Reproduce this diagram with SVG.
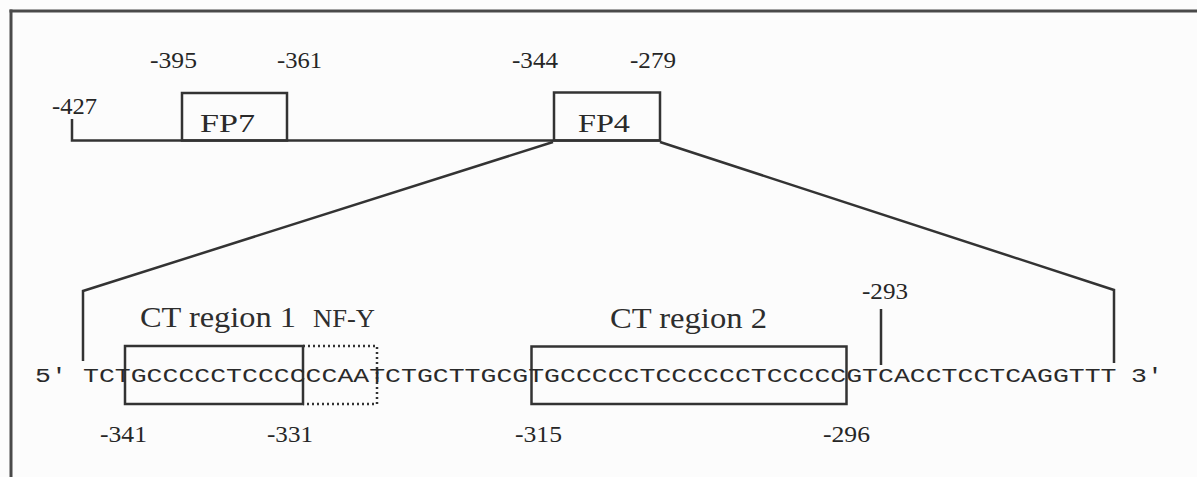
<svg xmlns="http://www.w3.org/2000/svg" width="1197" height="477" viewBox="0 0 1197 477">
<style>
.ln{stroke:#333;stroke-width:2.5;fill:none}
.bx{stroke:#333;stroke-width:2.5;fill:none}
.dot{stroke:#333;stroke-width:2.5;fill:none;stroke-dasharray:2 3}
.num{font-family:"Liberation Serif",serif;font-size:23.5px;fill:#262626}
.fp{font-family:"Liberation Serif",serif;font-size:25.5px;fill:#2a2a2a}
.ct{font-family:"Liberation Serif",serif;font-size:30px;fill:#2e2e2e}
.nf{font-family:"Liberation Serif",serif;font-size:25px;fill:#2e2e2e}
.seq{font-family:"Liberation Mono",monospace;font-size:19.5px;fill:#2a2a2a}
</style>
<rect width="1197" height="477" fill="#fcfcfc"/>
<g id="frame">
<line x1="9.5" y1="11" x2="1197" y2="11" stroke="#4a4a4a" stroke-width="3"/>
<line x1="11" y1="9.5" x2="11" y2="477" stroke="#4a4a4a" stroke-width="3"/>
</g>
<g id="connectors">
<polyline class="ln" points="72,119 72,140.5 555,140.5"/>
<line class="ln" x1="660" y1="140.5" x2="555" y2="140.5"/>
<polyline class="ln" points="553,142 83,291 83,361"/>
<polyline class="ln" points="660,142 1114,290 1114,363"/>
<line class="ln" x1="881" y1="309" x2="881" y2="365"/>
</g>
<g id="fp7">
<rect class="bx" x="182" y="93" width="105" height="47.5"/>
<text class="fp" x="200" y="131.5" textLength="55" lengthAdjust="spacingAndGlyphs">FP7</text>
</g>
<g id="fp4">
<rect class="bx" x="554" y="92.5" width="106" height="48"/>
<text class="fp" x="578" y="131.5" textLength="52" lengthAdjust="spacingAndGlyphs">FP4</text>
</g>
<g id="top-labels">
<text class="num" x="52" y="114" textLength="45" lengthAdjust="spacingAndGlyphs">-427</text>
<text class="num" x="150" y="68" textLength="47" lengthAdjust="spacingAndGlyphs">-395</text>
<text class="num" x="277" y="68" textLength="45" lengthAdjust="spacingAndGlyphs">-361</text>
<text class="num" x="512" y="68" textLength="46" lengthAdjust="spacingAndGlyphs">-344</text>
<text class="num" x="630" y="68" textLength="46" lengthAdjust="spacingAndGlyphs">-279</text>
</g>
<g id="ct-region-1">
<rect class="bx" x="125" y="346" width="178" height="58"/>
<text class="ct" x="140" y="327" textLength="156" lengthAdjust="spacingAndGlyphs">CT region 1</text>
</g>
<g id="nf-y">
<polyline class="dot" points="303,346 377,346 377,404 303,404"/>
<text class="nf" x="313" y="327" textLength="62" lengthAdjust="spacingAndGlyphs">NF-Y</text>
</g>
<g id="ct-region-2">
<rect class="bx" x="531.5" y="346.5" width="315" height="57.5"/>
<text class="ct" x="610" y="328" textLength="157" lengthAdjust="spacingAndGlyphs">CT region 2</text>
</g>
<g id="sequence">
<text class="seq" x="35" y="382" textLength="31.8" lengthAdjust="spacingAndGlyphs">5′</text>
<text class="seq" x="83" y="382" textLength="1033.5" lengthAdjust="spacingAndGlyphs">TCTGCCCCCTCCCCCCAATCTGCTTGCGTGCCCCCTCCCCCCTCCCCCGTCACCTCCTCAGGTTT</text>
<text class="seq" x="1131" y="382" textLength="31.8" lengthAdjust="spacingAndGlyphs">3′</text>
</g>
<g id="bottom-labels">
<text class="num" x="862" y="299" textLength="46" lengthAdjust="spacingAndGlyphs">-293</text>
<text class="num" x="100" y="442" textLength="47" lengthAdjust="spacingAndGlyphs">-341</text>
<text class="num" x="267" y="442" textLength="46" lengthAdjust="spacingAndGlyphs">-331</text>
<text class="num" x="515" y="442" textLength="47" lengthAdjust="spacingAndGlyphs">-315</text>
<text class="num" x="823" y="442" textLength="47" lengthAdjust="spacingAndGlyphs">-296</text>
</g>
</svg>
